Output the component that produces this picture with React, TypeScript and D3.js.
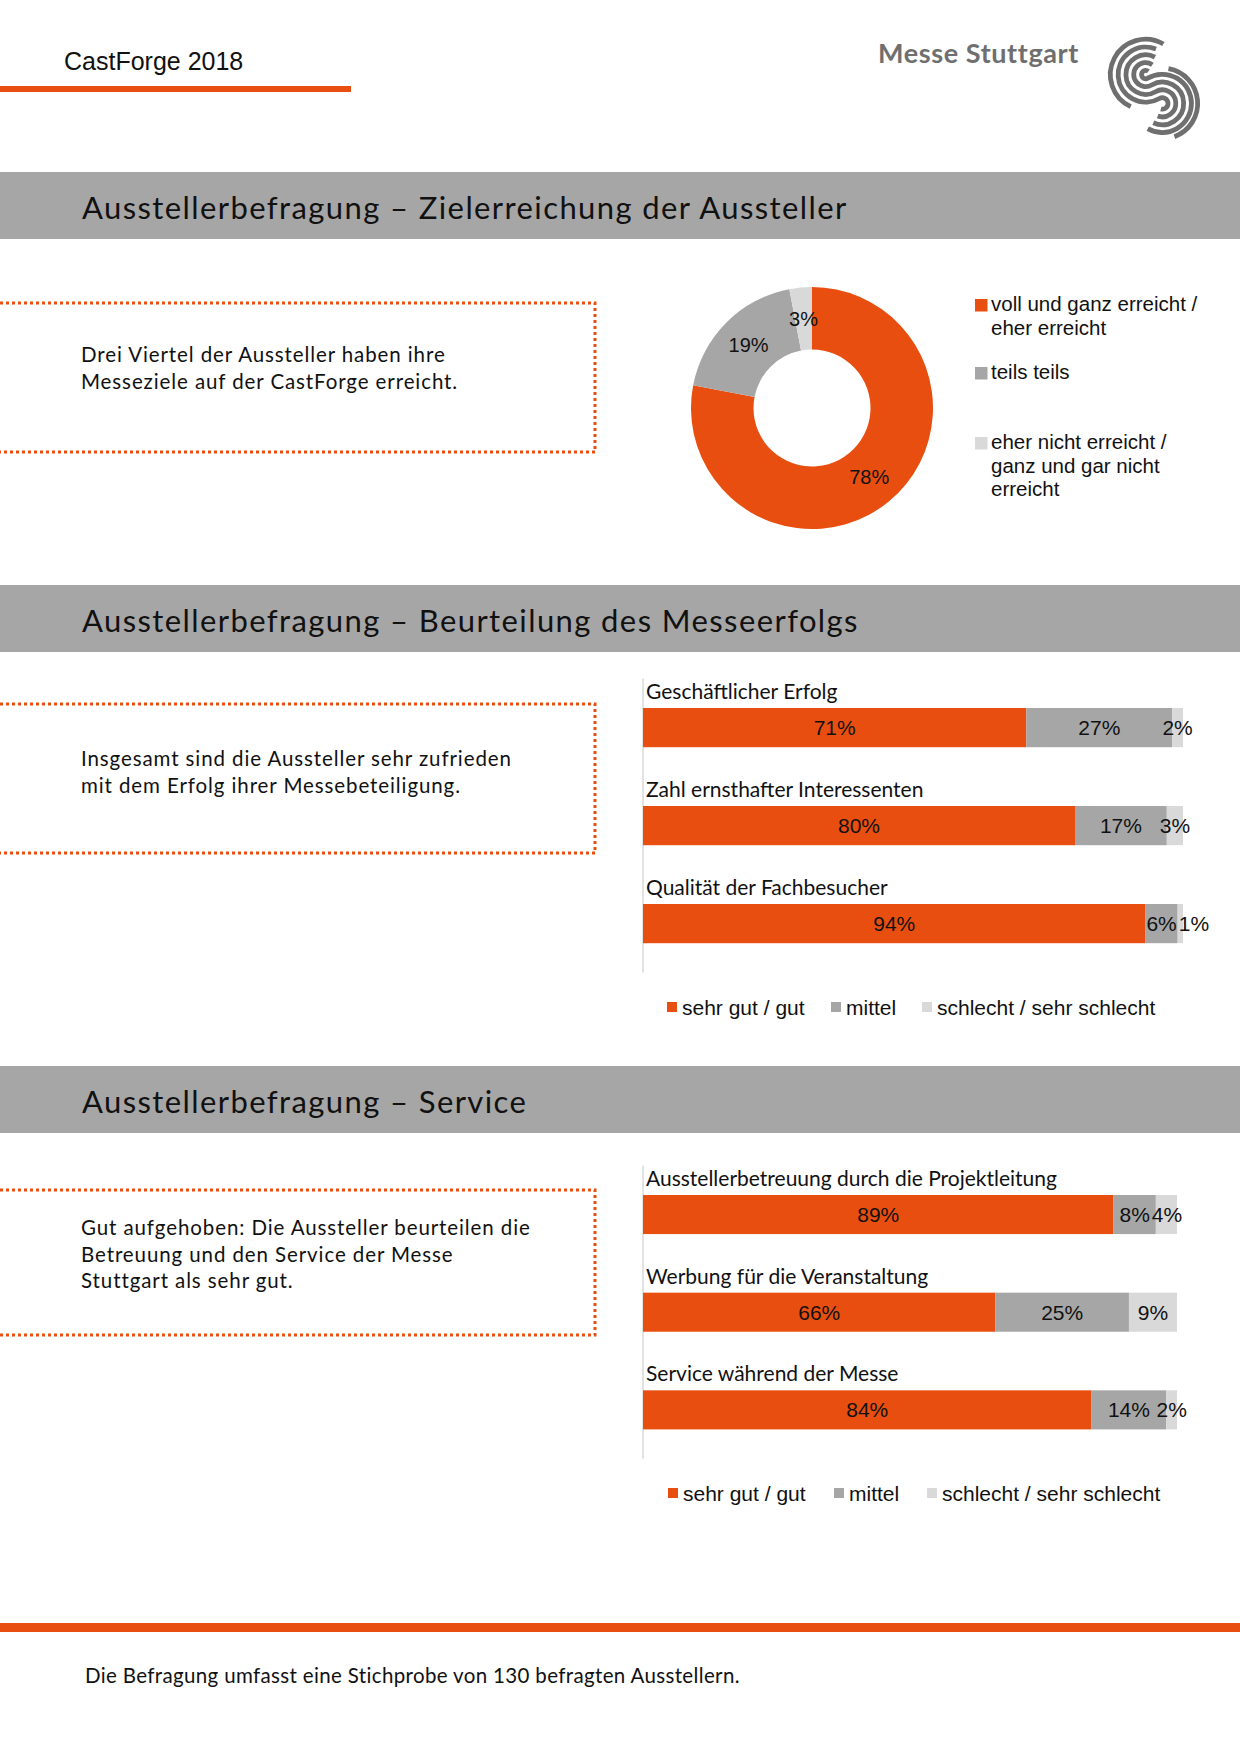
import React from "react";
import * as d3 from "d3";

const ORANGE = "#e84e0f";
const MID = "#a6a6a6";
const LIGHT = "#d9d9d9";
const SERIES_COLORS = [ORANGE, MID, LIGHT];

const AVENIR = "Lato, 'Open Sans', sans-serif";
const ARIAL = "'Liberation Sans', Arial, sans-serif";

// ---------- texts ----------
const headerTitle = "CastForge 2018";
const brandName = "Messe Stuttgart";
const sectionTitles = [
  "Ausstellerbefragung – Zielerreichung der Aussteller",
  "Ausstellerbefragung – Beurteilung des Messeerfolgs",
  "Ausstellerbefragung – Service",
];
const summaryTexts = [
  ["Drei Viertel der Aussteller haben ihre", "Messeziele auf der CastForge erreicht."],
  ["Insgesamt sind die Aussteller sehr zufrieden", "mit dem Erfolg ihrer Messebeteiligung."],
  [
    "Gut aufgehoben: Die Aussteller beurteilen die",
    "Betreuung und den Service der Messe",
    "Stuttgart als sehr gut.",
  ],
];
const footnote = "Die Befragung umfasst eine Stichprobe von 130 befragten Ausstellern.";

// ---------- donut data ----------
const donutCategories = [
  "voll und ganz erreicht / eher erreicht",
  "teils teils",
  "eher nicht erreicht / ganz und gar nicht erreicht",
];
const donutLegendLines = [
  ["voll und ganz erreicht /", "eher erreicht"],
  ["teils teils"],
  ["eher nicht erreicht /", "ganz und gar nicht", "erreicht"],
];
const donutValues = [78, 19, 3];

// ---------- stacked bar data ----------
const ratingKeys = ["sehr gut / gut", "mittel", "schlecht / sehr schlecht"];

const successCategories = [
  "Geschäftlicher Erfolg",
  "Zahl ernsthafter Interessenten",
  "Qualität der Fachbesucher",
];
const successGood = [71, 80, 94];
const successMid = [27, 17, 6];
const successBad = [2, 3, 1];

const serviceCategories = [
  "Ausstellerbetreuung durch die Projektleitung",
  "Werbung für die Veranstaltung",
  "Service während der Messe",
];
const serviceGood = [89, 66, 84];
const serviceMid = [8, 25, 14];
const serviceBad = [4, 9, 2];

// ---------- components ----------
function SectionBand({ y, title }: { y: number; title: string }) {
  return (
    <g>
      <rect x={0} y={y} width={1240} height={67} fill={MID} />
      <text x={82} y={y + 47} fontFamily={AVENIR} fontSize={31} letterSpacing={1.4} fill="#111">
        {title}
      </text>
    </g>
  );
}

function SummaryBox({ top, bottom, lines, firstBaseline }: { top: number; bottom: number; lines: string[]; firstBaseline: number }) {
  const right = 595;
  return (
    <g>
      <path
        d={`M0,${top} H${right} V${bottom} H0`}
        fill="none"
        stroke={ORANGE}
        strokeWidth={3}
        strokeDasharray="3,3"
      />
      {lines.map((l, i) => (
        <text key={i} x={81} y={firstBaseline + i * 26.5} fontFamily={AVENIR} fontSize={20.5} letterSpacing={0.9} fill="#111">
          {l}
        </text>
      ))}
    </g>
  );
}

function Logo() {
  const c1: [number, number] = [0, -16];
  const c2: [number, number] = [0, 16];
  const D = 32;
  const radii = [4, 11.5, 19, 26.5];
  const deg = Math.PI / 180;
  const stripes = radii.map((r, i) => {
    const p = d3.path();
    p.arc(c1[0], c1[1], r, (-20 - i * 6) * deg, -270 * deg, true);
    p.arc(c2[0], c2[1], D - r, -90 * deg, (150 - i * 5) * deg, false);
    return p.toString();
  });
  const outer1 = d3.path();
  outer1.arc(c1[0], c1[1], 34, -30 * deg, -215 * deg, true);
  const outer2 = d3.path();
  outer2.arc(c2[0], c2[1], 34, -50 * deg, 100 * deg, false);
  return (
    <g transform="translate(1154,89) rotate(-30) scale(1.04)">
      {stripes.map((d, i) => (
        <path key={i} d={d} fill="none" stroke="#6f6f6f" strokeWidth={4.6} />
      ))}
      <path d={outer1.toString()} fill="none" stroke="#6f6f6f" strokeWidth={4.6} />
      <path d={outer2.toString()} fill="none" stroke="#6f6f6f" strokeWidth={4.6} />
    </g>
  );
}

function Donut() {
  const cx = 812;
  const cy = 408;
  const pie = d3.pie<number>().sort(null).value((d) => d)(donutValues);
  const arc = d3.arc<d3.PieArcDatum<number>>().innerRadius(58.5).outerRadius(121);
  return (
    <g>
      <g transform={`translate(${cx},${cy})`}>
        {pie.map((p, i) => (
          <path key={i} d={arc(p) || ""} fill={SERIES_COLORS[i]} />
        ))}
        {pie.map((p, i) => {
          const [lx, ly] = arc.centroid(p);
          return (
            <text
              key={i}
              x={lx}
              y={ly + 7}
              textAnchor="middle"
              fontFamily={ARIAL}
              fontSize={20}
              fill="#111"
            >
              {`${donutValues[i]}%`}
            </text>
          );
        })}
      </g>
      {donutCategories.map((c, i) => {
        const tops = [299, 367, 437];
        return (
          <g key={c}>
            <rect x={975} y={tops[i]} width={12.5} height={12.5} fill={SERIES_COLORS[i]} />
            {donutLegendLines[i].map((l, j) => (
              <text key={j} x={991} y={tops[i] + 12 + j * 23.5} fontFamily={ARIAL} fontSize={20.5} fill="#111">
                {l}
              </text>
            ))}
          </g>
        );
      })}
    </g>
  );
}

function StackedChart({
  categories,
  good,
  mid,
  bad,
  x0,
  x1,
  y0,
  y1,
  legendCy,
  legendXs,
}: {
  categories: string[];
  good: number[];
  mid: number[];
  bad: number[];
  x0: number;
  x1: number;
  y0: number;
  y1: number;
  legendCy: number;
  legendXs: number[];
}) {
  const raw = [good, mid, bad];
  const rows = categories.map((c, i) => {
    const r: any = { cat: c };
    ratingKeys.forEach((k, j) => (r[k] = raw[j][i]));
    return r;
  });
  const series = d3.stack<any>().keys(ratingKeys).offset(d3.stackOffsetExpand)(rows);
  const x = d3.scaleLinear().domain([0, 1]).range([x0, x1]);
  const y = d3.scaleBand().domain(categories).range([y0, y1]).paddingInner(0.6).paddingOuter(0.3);
  const fs = 21;
  const labelWidth = (s: string) => (s.replace("%", "").length * 0.556 + 0.889) * fs;

  const labels: { x: number; y: number; t: string; k: string }[] = [];
  categories.forEach((c, i) => {
    let prevRight = -Infinity;
    series.forEach((s, j) => {
      const d = s[i];
      const t = `${raw[j][i]}%`;
      const w = labelWidth(t);
      let cxp = (x(d[0]) + x(d[1])) / 2;
      if (cxp - w / 2 < prevRight + 2) cxp = prevRight + 2 + w / 2;
      prevRight = cxp + w / 2;
      labels.push({ x: cxp, y: (y(c) as number) + y.bandwidth() / 2, t, k: `${i}-${j}` });
    });
  });

  return (
    <g>
      <line x1={x0} x2={x0} y1={y0} y2={y1} stroke={LIGHT} strokeWidth={1.5} />
      {series.map((s, j) => (
        <g key={s.key} fill={SERIES_COLORS[j]}>
          {s.map((d, i) => (
            <rect
              key={i}
              x={x(d[0])}
              y={y(categories[i])}
              width={x(d[1]) - x(d[0])}
              height={y.bandwidth()}
            />
          ))}
        </g>
      ))}
      {categories.map((c) => (
        <text key={c} x={x0 + 3} y={(y(c) as number) - 9} fontFamily={AVENIR} fontSize={21} fill="#111">
          {c}
        </text>
      ))}
      {labels.map((l) => (
        <text key={l.k} x={l.x} y={l.y + 7.5} textAnchor="middle" fontFamily={ARIAL} fontSize={fs} fill="#111">
          {l.t}
        </text>
      ))}
      {ratingKeys.map((k, j) => (
        <g key={k}>
          <rect x={legendXs[j]} y={legendCy - 5} width={10} height={10} fill={SERIES_COLORS[j]} />
          <text x={legendXs[j] + 15} y={legendCy + 7.5} fontFamily={ARIAL} fontSize={21} fill="#111">
            {k}
          </text>
        </g>
      ))}
    </g>
  );
}

export default function App() {
  return (
    <svg
      width={1240}
      height={1754}
      viewBox="0 0 1240 1754"
      style={{ position: "absolute", left: 0, top: 0, background: "#fff" }}
    >
      <rect x={0} y={0} width={1240} height={1754} fill="#fff" />
      {/* header */}
      <text x={64} y={70} fontFamily={ARIAL} fontSize={25} fill="#111">
        {headerTitle}
      </text>
      <rect x={0} y={86} width={351} height={6} fill={ORANGE} />
      <text x={878} y={63} fontFamily={AVENIR} fontWeight={700} fontSize={27} letterSpacing={0.6} fill="#6f6f6f">
        {brandName}
      </text>
      <Logo />

      {/* section 1 */}
      <SectionBand y={172} title={sectionTitles[0]} />
      <SummaryBox top={303} bottom={452} lines={summaryTexts[0]} firstBaseline={362} />
      <Donut />

      {/* section 2 */}
      <SectionBand y={585} title={sectionTitles[1]} />
      <SummaryBox top={704} bottom={853} lines={summaryTexts[1]} firstBaseline={766} />
      <StackedChart
        categories={successCategories}
        good={successGood}
        mid={successMid}
        bad={successBad}
        x0={643}
        x1={1183}
        y0={678.6}
        y1={972.6}
        legendCy={1007}
        legendXs={[667, 831, 922]}
      />

      {/* section 3 */}
      <SectionBand y={1066} title={sectionTitles[2]} />
      <SummaryBox top={1190} bottom={1335} lines={summaryTexts[2]} firstBaseline={1235} />
      <StackedChart
        categories={serviceCategories}
        good={serviceGood}
        mid={serviceMid}
        bad={serviceBad}
        x0={643}
        x1={1177}
        y0={1165.7}
        y1={1458.7}
        legendCy={1493}
        legendXs={[668, 834, 927]}
      />

      {/* footer */}
      <rect x={0} y={1623} width={1240} height={9} fill={ORANGE} />
      <text x={85} y={1683} fontFamily={AVENIR} fontSize={20.5} letterSpacing={0.35} fill="#111">
        {footnote}
      </text>
    </svg>
  );
}
